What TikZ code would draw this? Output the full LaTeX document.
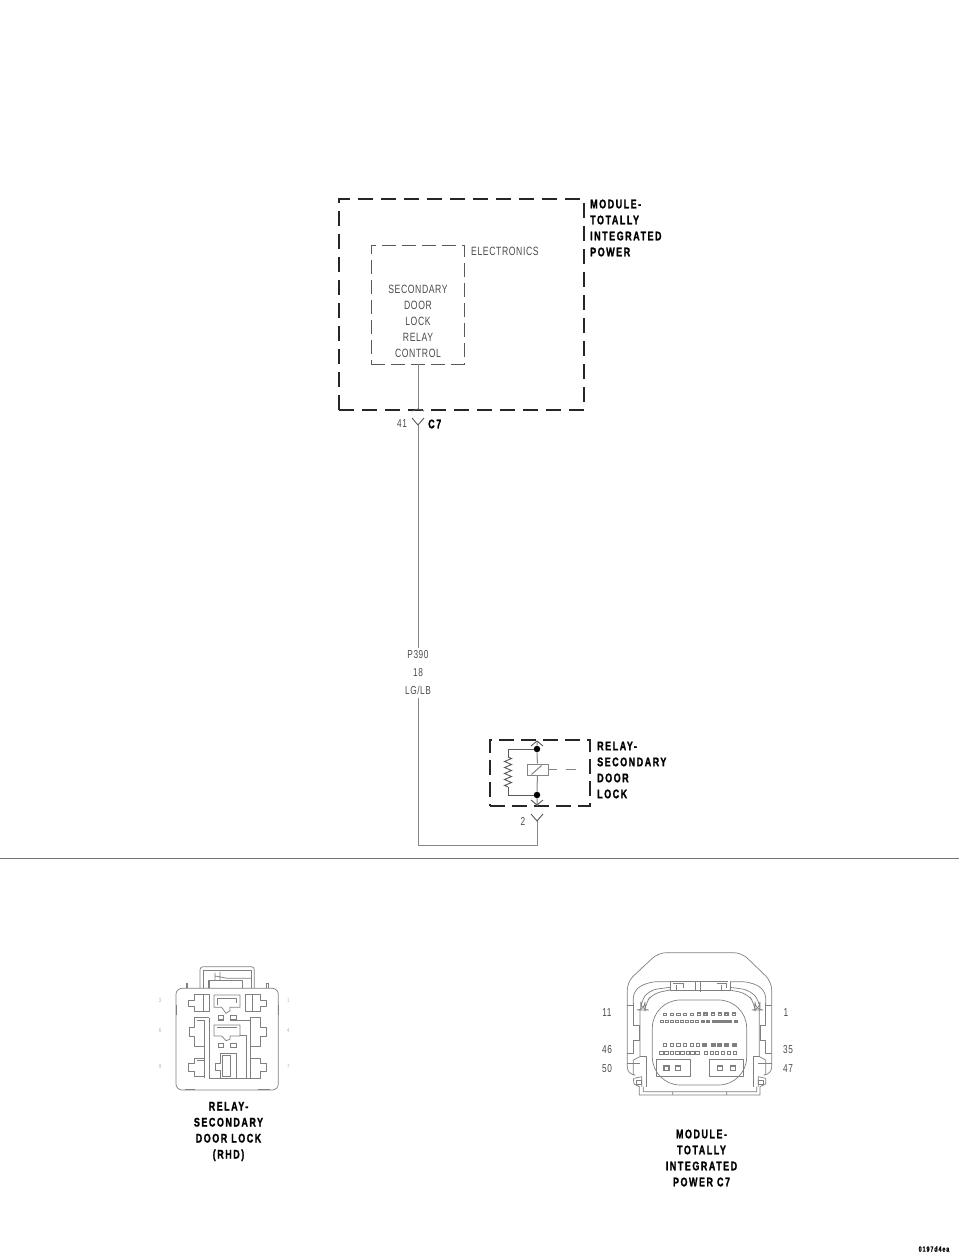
\documentclass[tikz,border=0pt]{standalone}
\usepackage{fontspec}
\setmainfont{Liberation Sans}
\newfontfamily\thinfont[FakeStretch=0.72,LetterSpace=5]{Liberation Sans}
\newfontfamily\heavyfont[FakeStretch=0.72,LetterSpace=12,FakeBold=1.2]{Liberation Sans Bold}
\usetikzlibrary{decorations.pathmorphing}
\definecolor{wire}{gray}{0.52}
\definecolor{ink}{gray}{0.3}
\definecolor{pen}{gray}{0.5}
\tikzset{
  heavylabel/.style={inner sep=0,text=black,font=\heavyfont\fontsize{12.5}{16}\selectfont},
  thinlabel/.style={inner sep=0,text=ink,font=\thinfont\fontsize{12}{16}\selectfont},
  pinlabel/.style={inner sep=0,text=ink,font=\thinfont\fontsize{11.5}{14}\selectfont},
  tinylabel/.style={inner sep=0,text=black!30,font=\thinfont\fontsize{6}{7}\selectfont},
  bigbox/.style={draw=black!85,line width=2pt,dash pattern=on 15pt off 8pt,inner sep=0},
  midbox/.style={draw=black!65,line width=0.9pt,dash pattern=on 14pt off 6pt,inner sep=0},
  wireline/.style={draw=wire,line width=1pt},
  thinwire/.style={draw=black!65,line width=0.9pt},
  outline/.style={draw=pen,line width=0.7pt,line join=round},
  solidpin/.style={draw=pen,line width=0.7pt},
  dot/.style={circle,fill=black,inner sep=0,minimum size=6.5pt}
}
\begin{document}
\begin{tikzpicture}[x=1pt,y=-1pt]
\path[use as bounding box,fill=white] (0,0) rectangle (960,1257);

% Module
\node[bigbox,minimum width=245pt,minimum height=211pt] (module) at (461.5,304.5) {};
\node[midbox,minimum width=93pt,minimum height=119pt] (electronics) at (417.5,304.5) {};
\node[heavylabel,anchor=west,align=left] (modulelabel) at (590,228) {MODULE-\\TOTALLY\\INTEGRATED\\POWER};
\node[thinlabel,anchor=west] (electext) at (471,251) {ELECTRONICS};
\node[thinlabel,align=center] (ctrl) at (418,321) {SECONDARY\\DOOR\\LOCK\\RELAY\\CONTROL};

\coordinate (c7top) at (418,409);
\coordinate (c7bot) at (418,425);
\coordinate (corner) at (418,845);
\coordinate (corner2) at (537,845);
\coordinate (pin2) at (537,821);
\coordinate (relayout) at (537,806);

\draw[wireline] (electronics.south -| c7top) -- (c7top);
\draw[thinwire] (412,411) -- (c7top) -- (424,411);
\draw[thinwire] (412,418) -- (c7bot) -- (424,418);
\draw[wireline] (c7bot) -- (corner) -- (corner2) -- (pin2);
\draw[thinwire] (531,814) -- (pin2) -- (543,814);
\node[pinlabel] (p41) at (402,424) {41};
\node[heavylabel,anchor=west] (c7) at (428,424) {C7};
\node[pinlabel,fill=white,inner ysep=3pt,align=center,font=\thinfont\fontsize{11.5}{18}\selectfont] (wirelabel) at (418,673) {P390\\18\\LG/LB};
\node[pinlabel] (p2) at (523,821) {2};

% Relay
\node[bigbox,line width=1.6pt,dash pattern=on 15pt off 7pt,minimum width=100pt,minimum height=66pt] (relay) at (540,773) {};
\node[heavylabel,anchor=west,align=left] (relaylabel) at (597,770) {RELAY-\\SECONDARY\\DOOR\\LOCK};
\node[dot] (dtop) at (537,749) {};
\node[dot] (dbot) at (537,795) {};
\node[draw=wire,fill=white,line width=1pt,minimum width=21pt,minimum height=11pt,inner sep=0] (coil) at (537.5,769.5) {};
\coordinate (rtop) at (508,749);
\coordinate (rbot) at (508,795);
\coordinate (rzt) at (508,757);
\coordinate (rzb) at (508,787);
\coordinate (reltop) at (537,741);
\coordinate (coilend) at (576,769.5);
\draw[thinwire] (dtop) -- (rtop) -- (rzt);
\draw[thinwire,decorate,decoration={zigzag,segment length=6pt,amplitude=3.5pt}] (rzt) -- (rzb);
\draw[thinwire] (rzb) -- (rbot) -- (dbot);
\draw[wireline] (reltop) -- (dtop) -- (coil) -- (dbot) -- (relayout);
\draw[thinwire] (531,746) -- (reltop) -- (543,746);
\draw[thinwire] (531,800) -- (537,805) -- (543,800);
\draw[draw=wire,line width=1pt] (coil.south west)++(5,-1) -- ++(10,-9);
\draw[draw=wire,line width=1pt,dash pattern=on 8pt off 9pt on 11pt off 9pt] (coil.east) -- (coilend);

% Separator
\coordinate (sepl) at (0,858.5);
\coordinate (sepr) at (959,858.5);
\draw[draw=black!55,line width=1pt] (sepl) -- (sepr);

% Relay connector
\begin{scope}[shift={(140,950)},x=0.3333pt,y=-0.3333pt]
\draw[outline,rounded corners=6pt] (108,115) rectangle (415,420);
\draw[outline,rounded corners=3pt] (180,115) -- (180,50) -- (343,50) -- (343,115);
\draw[outline] (190,115) -- (190,60) -- (335,60) -- (335,115);
\draw[outline,line width=1.2pt] (207,115) -- (207,92) -- (308,92) -- (308,115);
\draw[outline] (225,90) -- (225,68) (240,90) -- (240,65) (225,78) -- (262,85) -- (335,85);
\draw[outline] (138,115) -- (138,100) -- (143,100) -- (143,115) (378,115) -- (378,100) -- (384,100) -- (384,115);
\draw[outline] (108,165) -- (108,195) (415,165) -- (415,195) (135,418) -- (165,418) (355,418) -- (390,418);
% top row
\draw[outline] (207,132) -- (163,132) -- (163,150) -- (145,150) -- (145,170) -- (163,170) -- (163,185) -- (207,185) -- cycle;
\draw[outline] (190,132) -- (190,185);
\draw[outline] (222,135) -- (300,135) -- (300,172) -- (270,172) -- (270,182) -- (258,190) -- (245,172) -- (222,172) -- cycle;
\draw[outline] (232,145) -- (290,145) -- (290,160) (232,145) -- (232,165);
\draw[outline] (315,132) -- (362,132) -- (362,150) -- (380,150) -- (380,170) -- (362,170) -- (362,185) -- (315,185) -- cycle;
\draw[outline] (338,132) -- (338,185);
\foreach \yy in {197,280} {
  \draw[solidpin,line width=1.1pt] (235,\yy) rectangle (250,\yy+13);
  \draw[solidpin,line width=1.1pt] (272,\yy) rectangle (290,\yy+13);
}
% middle row
\draw[outline] (207,203) -- (163,203) -- (163,232) -- (147,232) -- (147,258) -- (163,258) -- (163,288) -- (192,288);
\draw[outline] (170,210) -- (192,210) -- (192,385) (207,203) -- (207,385);
\draw[outline] (222,225) -- (300,225) -- (300,258) -- (270,258) -- (270,268) -- (258,272) -- (245,258) -- (222,258) -- cycle;
\draw[outline] (232,232) -- (290,232);
\draw[outline] (272,212) -- (330,212) (300,255) -- (318,255) -- (318,385) (330,203) -- (330,385);
\draw[outline] (330,203) -- (362,203) -- (362,232) -- (380,232) -- (380,258) -- (362,258) -- (362,290) -- (330,290);
% bottom row
\draw[outline] (192,325) -- (163,325) -- (163,340) -- (145,340) -- (145,365) -- (163,365) -- (163,380) -- (192,380);
\draw[outline] (170,332) -- (192,332);
\draw[outline] (240,310) -- (290,310) -- (290,385) -- (240,385) -- (240,360) -- (225,360) -- (225,340) -- (240,340) -- cycle;
\draw[outline] (247,315) -- (270,315) -- (270,380) -- (247,380) -- cycle;
\draw[outline] (330,325) -- (362,325) -- (362,340) -- (380,340) -- (380,365) -- (362,365) -- (362,385) -- (330,385);
\draw[outline] (207,385) -- (330,385);
\node[tinylabel] (rp3) at (60,152) {3};
\node[tinylabel] (rp1) at (445,152) {1};
\node[tinylabel] (rp6) at (60,240) {6};
\node[tinylabel] (rp4) at (445,240) {4};
\node[tinylabel] (rp9) at (60,350) {9};
\node[tinylabel] (rp7) at (445,350) {7};
\end{scope}
\node[heavylabel,align=center] (relaycap) at (228.5,1131.5) {RELAY-\\SECONDARY\\DOOR LOCK\\(RHD)};

% Module connector
\begin{scope}[shift={(590,940)},x=0.3333pt,y=-0.3333pt]
\draw[outline,rounded corners=8pt] (130,405) -- (112,405) -- (112,125) -- (205,38) -- (455,38) -- (545,125) -- (545,405) -- (525,405);
\draw[outline,rounded corners=8pt] (130,190) -- (130,150) -- (178,125) -- (240,125);
\draw[outline,rounded corners=8pt] (527,190) -- (527,150) -- (480,125) -- (420,125);
\draw[outline] (240,125) -- (240,150) -- (420,150) -- (420,125);
\draw[outline] (240,125) -- (415,125) (250,130) -- (280,130) -- (280,145) (380,130) -- (410,130) -- (410,145) (315,125) -- (315,150) (330,125) -- (330,155) (260,135) -- (260,150) (395,135) -- (395,150);
\draw[outline,rounded corners=8pt] (240,142) -- (178,150) -- (152,185) -- (152,210) -- (165,210) -- (165,190) -- (190,160) -- (240,150);
\draw[outline,rounded corners=8pt] (420,142) -- (480,150) -- (510,185) -- (510,210) -- (495,210) -- (495,190) -- (470,160) -- (420,150);
\draw[outline] (112,195) -- (130,195) (545,195) -- (527,195) (130,190) -- (130,255) -- (147,255) -- (147,300) -- (130,300) -- (130,340) -- (112,340) (527,190) -- (527,255) -- (510,255) -- (510,300) -- (527,300) -- (527,340) -- (545,340) (112,370) -- (150,370) (545,370) -- (505,370);
\draw[outline] (150,210) -- (150,350) -- (130,360) -- (130,405) (508,210) -- (508,350) -- (527,360) -- (527,405);
\draw[outline] (150,350) -- (168,350) -- (168,440) (508,350) -- (490,350) -- (490,440);
\draw[outline] (130,415) -- (132,432) -- (148,440) -- (148,465) -- (510,465) -- (510,440) -- (527,432) -- (527,415) -- (505,410) -- (505,440);
\draw[outline] (132,415) -- (155,410) -- (155,440) (160,440) -- (160,455) -- (500,455) -- (500,440) (248,455) -- (248,465) (410,455) -- (410,465);
\draw[outline] (140,420) rectangle (155,433) (505,420) rectangle (520,433);
\draw[outline,rounded corners=28pt] (187,180) rectangle (470,435);
\draw[outline,line width=1pt] (200,358) rectangle (300,410) (360,358) rectangle (460,410);
\foreach \xa in {222,257,382,422} {
  \draw[solidpin,line width=1.2pt] (\xa,378) rectangle (\xa+15,392);
}
\foreach \xa in {220,240,260,280,300} { \draw[solidpin,line width=1pt] (\xa,219) rectangle (\xa+10,227); }
\foreach \xa in {322,342,365,385,405,428} { \draw[solidpin,line width=1.2pt] (\xa,219) rectangle (\xa+9,227); }
\foreach \xa in {210,225,240,255,270,285,300,316} { \draw[solidpin,line width=1pt] (\xa,240) rectangle (\xa+10,248); }
\foreach \xa in {335,350,370,385,400,415,435} { \draw[solidpin,line width=1.8pt] (\xa,242) rectangle (\xa+7,246); }
\foreach \xa in {220,240,260,280,300,320} { \draw[solidpin,line width=1pt] (\xa,311) rectangle (\xa+10,319); }
\foreach \xa in {338,365,385,405,428} { \draw[solidpin,line width=1.8pt] (\xa,313) rectangle (\xa+9,317); }
\foreach \xa in {208,224,240,256,272,288,302,318} { \draw[solidpin,line width=1pt] (\xa,334) rectangle (\xa+11,342); }
\foreach \xa in {345,362,378,395,412,432} { \draw[solidpin,line width=1pt] (\xa,334) rectangle (\xa+9,342); }
\end{scope}
\node[pinlabel] (m11) at (607,1013) {11};
\node[pinlabel] (m1) at (786,1013) {1};
\node[pinlabel] (m46) at (607,1050) {46};
\node[pinlabel] (m35) at (788,1050) {35};
\node[pinlabel] (m50) at (607,1069) {50};
\node[pinlabel] (m47) at (788,1069) {47};
\node[heavylabel,align=center] (modcap) at (701.5,1158) {MODULE-\\TOTALLY\\INTEGRATED\\POWER C7};

\node[heavylabel,font=\heavyfont\fontsize{7.5}{9}\selectfont] (figid) at (934,1249) {0197d4ea};
\end{tikzpicture}
\end{document}
